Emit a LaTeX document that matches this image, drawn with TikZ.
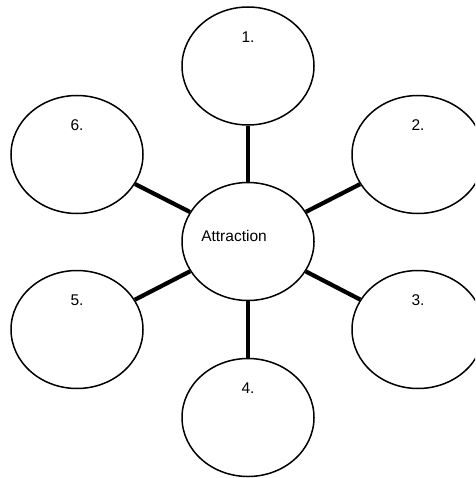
\documentclass[tikz,border=0pt]{standalone}
\usepackage{fontspec}
\setmainfont{Liberation Sans}
\usetikzlibrary{shapes.geometric}
\begin{document}
\begin{tikzpicture}[x=1pt,y=-1pt,
  bubble/.style={draw=black, line width=1.5pt, ellipse, fill=white,
    minimum width=132pt, minimum height=118pt, inner sep=0pt},
  spoke/.style={line width=4.2pt},
  tag/.style={font=\fontsize{15.5}{18}\selectfont, inner sep=0pt}]
  \useasboundingbox (0,0) rectangle (475,478);
  \clip (0,0) rectangle (475,478);

  % hub and surrounding bubbles
  \node[bubble] (c) at (248,241.5) {};
  \node[bubble] (b1) at (248,66) {};
  \node[bubble] (b2) at (418,154.5) {};
  \node[bubble] (b3) at (418,329.5) {};
  \node[bubble] (b4) at (248,417.5) {};
  \node[bubble] (b5) at (77,329.5) {};
  \node[bubble] (b6) at (77,154.5) {};

  % spokes
  \foreach \b in {b1,b2,b3,b4,b5,b6}
    \draw[spoke] (c) -- (\b);

  % texts
  \node[tag] (tc) at (234,236) {Attraction};
  \node[tag] (t1) at (248,37) {1.};
  \node[tag] (t2) at (418,125.5) {2.};
  \node[tag] (t3) at (418,300.5) {3.};
  \node[tag] (t4) at (248,388.5) {4.};
  \node[tag] (t5) at (77,300.5) {5.};
  \node[tag] (t6) at (77,125.5) {6.};
\end{tikzpicture}
\end{document}
